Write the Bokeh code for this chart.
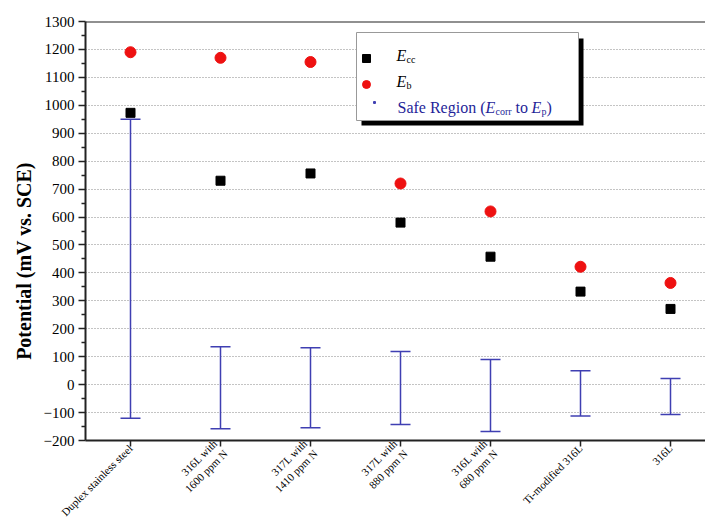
import math
from bokeh.plotting import figure
from bokeh.models import (Range1d, FixedTicker, Whisker, TeeHead, ColumnDataSource, Legend,
                          LegendItem, Label, BoxAnnotation, Span)
from bokeh.embed import file_html
from bokeh.resources import INLINE

categories = ["Duplex stainless steel", "316L with\n1600 ppm N", "317L with\n1410 ppm N",
              "317L with\n880 ppm N", "316L with\n680 ppm N", "Ti-modified 316L", "316L"]
e_cc = [973, 730, 756, 580, 458, 333, 271]
e_b = [1190, 1170, 1155, 720, 620, 422, 364]
safe_low = [-120, -158, -154, -143, -168, -112, -107]
safe_high = [950, 136, 132, 119, 90, 50, 22]
y_ticks = [-200, -100, 0, 100, 200, 300, 400, 500, 600, 700, 800, 900, 1000, 1100, 1200, 1300]

xs = list(range(1, len(categories) + 1))
FONT = "Liberation Serif"
BLUE = "#3f3fb2"
TBLUE = "#1f1f99"

p = figure(width=705, height=525, output_backend="svg", toolbar_location=None,
           x_range=Range1d(0.5, 0.5 + 620 / 90), y_range=Range1d(-200, 1300),
           min_border_left=85, min_border_top=21, min_border_right=0, min_border_bottom=80)
p.outline_line_color = None
p.background_fill_color = "white"
p.border_fill_color = "white"

src = ColumnDataSource(dict(x=xs, ecc=e_cc, eb=e_b, lo=safe_low, hi=safe_high))

# error bars (safe region)
p.segment(x0="x", y0="lo", x1="x", y1="hi", source=src, line_color=BLUE, line_width=1.5)
wh = Whisker(base="x", lower="lo", upper="hi", source=src, dimension="height",
             line_color=BLUE, line_width=1.5, line_alpha=0,
             upper_head=TeeHead(size=20, line_color=BLUE, line_width=1.5),
             lower_head=TeeHead(size=20, line_color=BLUE, line_width=1.5))
p.add_layout(wh)

r_sq = p.scatter("x", "ecc", source=src, marker="square", size=9, fill_color="black", line_color="black")
r_ci = p.scatter("x", "eb", source=src, marker="circle", size=11, fill_color="#ee1111", line_color="#ee1111")

# axes
yax = p.yaxis[0]
yax.ticker = FixedTicker(ticks=y_ticks, minor_ticks=[v + 50 for v in y_ticks[:-1]])
yax.major_label_text_font = FONT
yax.major_label_text_font_size = "15px"
yax.major_label_text_color = "black"
yax.axis_line_width = 2
yax.axis_line_color = "#222222"
yax.major_tick_in = 0
yax.major_tick_out = 7
yax.minor_tick_in = 0
yax.minor_tick_out = 4
yax.major_tick_line_width = 1.5
yax.minor_tick_line_width = 1.5
yax.major_tick_line_color = "#222222"
yax.minor_tick_line_color = "#222222"
yax.major_label_standoff = 4
# trailing no-break spaces shift the centred title towards the bottom, as in the original
yax.axis_label = "Potential (mV vs. SCE)" + "\u00a0" * 12
yax.axis_label_text_font = FONT
yax.axis_label_text_font_style = "bold"
yax.axis_label_text_font_size = "20px"
yax.axis_label_text_color = "black"
yax.axis_label_standoff = 6

xax = p.xaxis[0]
xax.ticker = FixedTicker(ticks=xs)
xax.major_label_overrides = {x: c for x, c in zip(xs, categories)}
xax.major_label_orientation = math.pi / 4
xax.major_label_text_font = FONT
xax.major_label_text_font_size = "11px"
xax.major_label_text_color = "black"
xax.axis_line_width = 2
xax.axis_line_color = "#222222"
xax.major_tick_in = 0
xax.major_tick_out = 6
xax.major_tick_line_width = 1.5
xax.major_tick_line_color = "#222222"
xax.minor_tick_line_color = None
xax.major_label_standoff = 0

p.xgrid.grid_line_color = None
p.ygrid.grid_line_color = "#888888"
p.ygrid.grid_line_dash = "1 2"
p.ygrid.grid_line_width = 1
p.ygrid.ticker = FixedTicker(ticks=[v for v in y_ticks if -200 < v < 1300])

p.add_layout(Span(location=1300, dimension="width", line_color="#222222", line_width=2))

# screen helpers (measured from frame bottom-left)
FL, FB = 85, 437
def sx(px): return px - FL
def sy(py): return FB - py

def box(l, t, r, b, fill, line=None, radius=0):
    p.add_layout(BoxAnnotation(left=sx(l), right=sx(r), top=sy(t), bottom=sy(b),
                               left_units="screen", right_units="screen", top_units="screen",
                               bottom_units="screen", fill_color=fill, fill_alpha=1,
                               line_color=line, line_width=1, line_alpha=1,
                               border_radius=radius))

# legend frame with drop shadow
box(361, 35, 583, 122, "black")
box(356, 29, 578, 117, "white", "#999999")

legend = Legend(items=[LegendItem(label=" ", renderers=[r_sq]),
                       LegendItem(label=" ", renderers=[r_ci])],
                location=(sx(356), sy(91)), padding=8, spacing=6, glyph_height=20,
                glyph_width=20, label_standoff=4, label_width=10, label_height=20,
                border_line_color=None, background_fill_alpha=0, margin=0)
p.add_layout(legend)
# small dot marker of the "Safe Region" legend entry
box(372.5, 97.5, 375.5, 100.5, BLUE, radius=1)

def txt(text, px, py, size, color="black", style="normal"):
    p.add_layout(Label(x=sx(px), y=sy(py), x_units="screen", y_units="screen", text=text,
                       text_font=FONT, text_font_size=f"{size}px", text_color=color,
                       text_font_style=style, text_baseline="alphabetic", text_align="left"))

txt("E", 396, 52, 16, style="italic")
txt("cc", 406, 56, 10)
txt("E", 396, 78, 16, style="italic")
txt("b", 406, 82, 10)
txt("Safe Region (", 397, 104, 16, color=TBLUE)
txt("E", 485, 104, 16, color=TBLUE, style="italic")
txt("corr", 495, 108, 10, color=TBLUE)
txt("to", 515, 104, 16, color=TBLUE)
txt("E", 531, 104, 16, color=TBLUE, style="italic")
txt("p", 541, 108, 10, color=TBLUE)
txt(")", 546, 104, 16, color=TBLUE)

open("out.html", "w").write(file_html(p, INLINE))
